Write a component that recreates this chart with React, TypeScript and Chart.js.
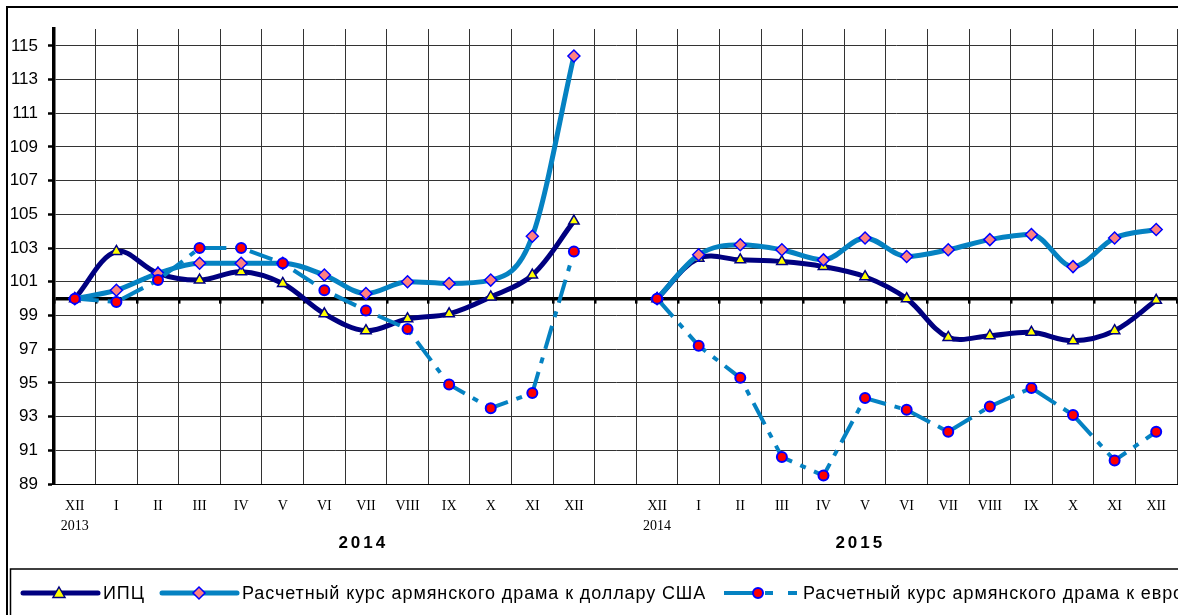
import React, { useEffect, useRef } from "react";
import { Chart, registerables } from "chart.js";

Chart.register(...registerables);

const categories: (string | string[])[] = [
  ["XII", "2013"], "I", "II", "III", "IV", "V", "VI", "VII", "VIII", "IX", "X", "XI", "XII",
  "",
  ["XII", "2014"], "I", "II", "III", "IV", "V", "VI", "VII", "VIII", "IX", "X", "XI", "XII",
];

const cpi = [100, 102.8, 101.5, 101.1, 101.6, 100.9, 99.1, 98.1, 98.8, 99.1, 100.1, 101.4, 104.6, null,
  100, 102.4, 102.3, 102.2, 101.9, 101.3, 100.0, 97.7, 97.8, 98.0, 97.5, 98.1, 99.9];

const usd = [100, 100.5, 101.5, 102.1, 102.1, 102.1, 101.4, 100.3, 101.0, 100.9, 101.1, 103.7, 114.4, null,
  100, 102.6, 103.2, 102.9, 102.3, 103.6, 102.5, 102.9, 103.5, 103.8, 101.9, 103.6, 104.1];

const eur = [100, 99.8, 101.1, 103.0, 103.0, 102.1, 100.5, 99.3, 98.2, 94.9, 93.5, 94.4, 102.8, null,
  100, 97.2, 95.3, 90.6, 89.5, 94.1, 93.4, 92.1, 93.6, 94.7, 93.1, 90.4, 92.1];

const seriesNames = [
  "ИПЦ",
  "Расчетный курс армянского драма к доллару США",
  "Расчетный курс армянского драма к евро",
];

const yearLabels = ["2014", "2015"];
const yearLabelAt = [6.9, 18.85];

const yMin = 89;
const yMax = 116;

const NAVY = "#000080";
const BLUE = "#0582C2";
const SANS = "'Liberation Sans', Arial, sans-serif";
const SERIF = "'Liberation Serif', 'Times New Roman', serif";

function drawMarker(ctx: CanvasRenderingContext2D, kind: string, x: number, y: number) {
  ctx.save();
  ctx.beginPath();
  if (kind === "tri") {
    ctx.moveTo(x, y - 6);
    ctx.lineTo(x + 6, y + 4.5);
    ctx.lineTo(x - 6, y + 4.5);
    ctx.closePath();
    ctx.fillStyle = "#FFFF00";
    ctx.strokeStyle = NAVY;
    ctx.lineWidth = 1.5;
  } else if (kind === "dia") {
    ctx.moveTo(x, y - 6);
    ctx.lineTo(x + 6, y);
    ctx.lineTo(x, y + 6);
    ctx.lineTo(x - 6, y);
    ctx.closePath();
    ctx.fillStyle = "#FF8080";
    ctx.strokeStyle = "#0000FF";
    ctx.lineWidth = 1.5;
  } else {
    ctx.arc(x, y, 5, 0, Math.PI * 2);
    ctx.fillStyle = "#FF0000";
    ctx.strokeStyle = "#0000FF";
    ctx.lineWidth = 2;
  }
  ctx.fill();
  ctx.stroke();
  ctx.restore();
}

const decorPlugin = {
  id: "decor",
  beforeDraw(chart: any) {
    const ctx = chart.ctx;
    ctx.save();
    ctx.fillStyle = "#fff";
    ctx.fillRect(0, 0, chart.width, chart.height);
    ctx.restore();
  },
  beforeDatasetsDraw(chart: any) {
    const ctx = chart.ctx;
    const x = chart.scales.x;
    const y = chart.scales.y;
    const y100 = y.getPixelForValue(100);
    ctx.save();
    ctx.fillStyle = "#000";
    for (let i = 0; i <= categories.length; i++) {
      const px = x.getPixelForValue(i - 0.5);
      ctx.fillRect(Math.round(px) - 1, y100, 2.5, 5);
    }
    ctx.restore();
  },
  afterDraw(chart: any) {
    const ctx = chart.ctx;
    const x = chart.scales.x;
    const W = chart.width;
    const H = chart.height;
    ctx.save();
    // outer frame
    ctx.strokeStyle = "#000";
    ctx.lineWidth = 2;
    ctx.beginPath();
    ctx.moveTo(7, H + 5);
    ctx.lineTo(7, 7);
    ctx.lineTo(W + 5, 7);
    ctx.stroke();
    // legend frame
    ctx.lineWidth = 1.5;
    ctx.beginPath();
    ctx.moveTo(10.5, H + 5);
    ctx.lineTo(10.5, 569);
    ctx.lineTo(W + 5, 569);
    ctx.stroke();

    // year labels
    ctx.fillStyle = "#000";
    ctx.font = `bold 17px ${SANS}`;
    (ctx as any).letterSpacing = "3px";
    ctx.textAlign = "center";
    ctx.textBaseline = "middle";
    yearLabels.forEach((t, i) => {
      ctx.fillText(t, x.getPixelForValue(yearLabelAt[i]) + 1.5, 543);
    });
    (ctx as any).letterSpacing = "0px";

    // legend
    const ly = 593;
    ctx.lineCap = "round";
    ctx.strokeStyle = NAVY;
    ctx.lineWidth = 5;
    ctx.beginPath();
    ctx.moveTo(23, ly);
    ctx.lineTo(98, ly);
    ctx.stroke();
    drawMarker(ctx, "tri", 59, ly);

    ctx.strokeStyle = BLUE;
    ctx.beginPath();
    ctx.moveTo(162, ly);
    ctx.lineTo(237, ly);
    ctx.stroke();
    drawMarker(ctx, "dia", 199, ly);

    ctx.lineCap = "butt";
    ctx.lineWidth = 4;
    ctx.beginPath();
    ctx.moveTo(724, ly);
    ctx.lineTo(753, ly);
    ctx.moveTo(765, ly);
    ctx.lineTo(773, ly);
    ctx.moveTo(788, ly);
    ctx.lineTo(797, ly);
    ctx.stroke();
    drawMarker(ctx, "circ", 758, ly);

    ctx.fillStyle = "#000";
    ctx.font = `18px ${SANS}`;
    (ctx as any).letterSpacing = "0.9px";
    ctx.textAlign = "left";
    ctx.textBaseline = "middle";
    ctx.fillText(seriesNames[0], 103, ly + 1);
    ctx.fillText(seriesNames[1], 242, ly + 1);
    ctx.fillText(seriesNames[2], 803, ly + 1);
    (ctx as any).letterSpacing = "0px";
    ctx.restore();
  },
};

export default function App() {
  const ref = useRef<HTMLCanvasElement>(null);

  useEffect(() => {
    if (!ref.current) return;
    const chart = new Chart(ref.current, {
      type: "line",
      data: {
        labels: categories,
        datasets: [
          {
            label: seriesNames[0],
            data: cpi,
            borderColor: NAVY,
            borderWidth: 5,
            tension: 0.35,
            pointStyle: "triangle",
            pointRadius: 6,
            pointBackgroundColor: "#FFFF00",
            pointBorderColor: NAVY,
            pointBorderWidth: 1.5,
            spanGaps: false,
            order: 3,
          },
          {
            label: seriesNames[1],
            data: usd,
            borderColor: BLUE,
            borderWidth: 5,
            cubicInterpolationMode: "monotone",
            pointStyle: "rectRot",
            pointRadius: 6,
            pointBackgroundColor: "#FF8080",
            pointBorderColor: "#0000FF",
            pointBorderWidth: 1.5,
            spanGaps: false,
            order: 2,
          },
          {
            label: seriesNames[2],
            data: eur,
            borderColor: BLUE,
            borderWidth: 4,
            borderDash: [24, 9, 6, 9],
            tension: 0,
            pointStyle: "circle",
            pointRadius: 5,
            pointBackgroundColor: "#FF0000",
            pointBorderColor: "#0000FF",
            pointBorderWidth: 2,
            spanGaps: false,
            order: 1,
          },
        ],
      },
      options: {
        responsive: false,
        animation: false,
        layout: { autoPadding: false, padding: { top: 29, right: 1, left: 0, bottom: 0 } },
        plugins: {
          legend: { display: false },
          tooltip: { enabled: false },
        },
        scales: {
          x: {
            type: "category",
            offset: true,
            grid: {
              offset: true,
              color: "#333",
              lineWidth: 1,
              drawTicks: false,
            },
            border: { display: true, color: "#000", width: 1 },
            ticks: {
              autoSkip: false,
              maxRotation: 0,
              minRotation: 0,
              padding: 12,
              color: "#000",
              font: { family: SERIF, size: 14, lineHeight: 1.45 },
            },
            afterFit: (s: any) => {
              s.height = 131;
              s.paddingLeft = 0;
              s.paddingRight = 0;
            },
          },
          y: {
            min: yMin,
            max: yMax,
            ticks: {
              stepSize: 1,
              autoSkip: false,
              padding: 10,
              color: "#000",
              font: { family: SANS, size: 17 },
              callback: (v: any) => (Math.abs(v % 2) === 1 ? String(v) : ""),
            },
            grid: {
              color: (c: any) => {
                const v = c.tick ? c.tick.value : null;
                if (v === 100) return "#000";
                if (v !== null && Math.abs(v % 2) === 1) return "#333";
                return "rgba(0,0,0,0)";
              },
              lineWidth: (c: any) => (c.tick && c.tick.value === 100 ? 3.5 : 1),
              tickColor: (c: any) => {
                const v = c.tick ? c.tick.value : null;
                return v !== null && Math.abs(v % 2) === 1 ? "#000" : "rgba(0,0,0,0)";
              },
              tickLength: 6,
              tickWidth: 2.5,
            },
            border: { display: true, color: "#000", width: 3.5 },
            afterFit: (s: any) => {
              s.width = 54;
            },
          },
        },
      },
      plugins: [decorPlugin],
    });
    return () => chart.destroy();
  }, []);

  return (
    <div style={{ position: "absolute", left: 0, top: 0, width: 1178, height: 615, overflow: "hidden", background: "#fff" }}>
      <canvas ref={ref} width={1178} height={615} style={{ display: "block", width: 1178, height: 615 }} />
    </div>
  );
}
